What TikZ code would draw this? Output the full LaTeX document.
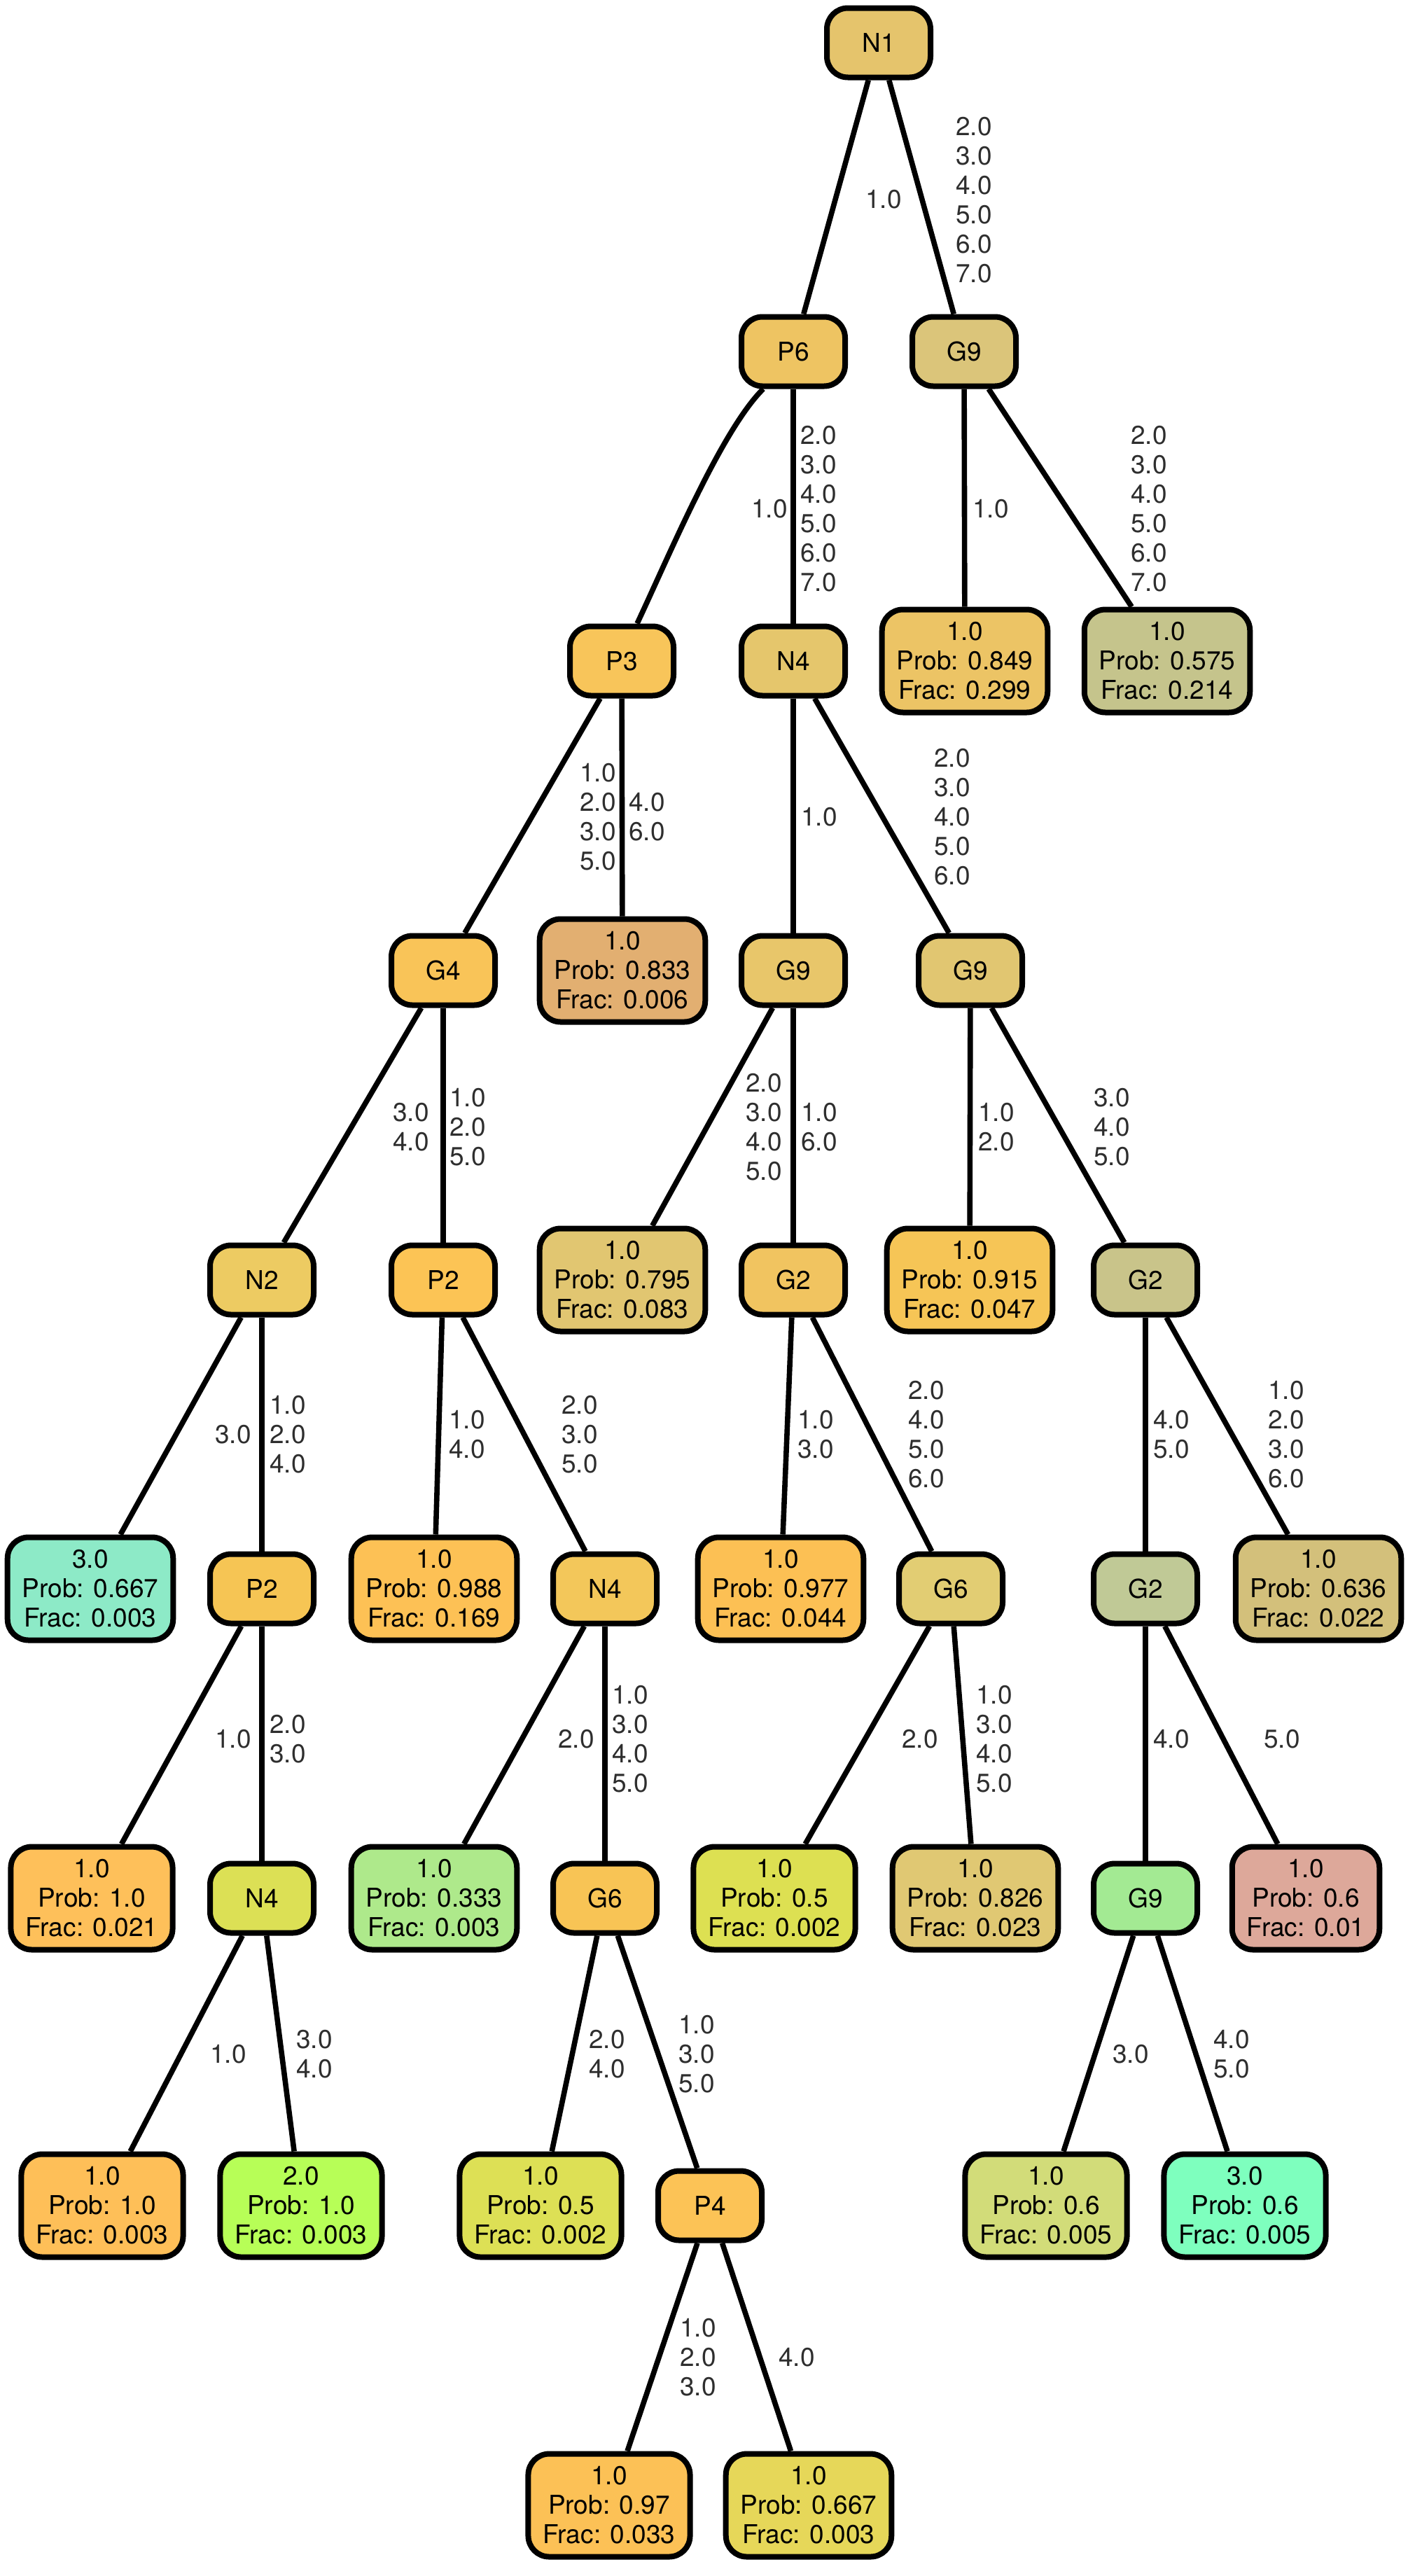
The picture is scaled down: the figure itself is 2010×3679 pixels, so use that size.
\documentclass[tikz,border=0pt]{standalone}
\usepackage{fontspec}
\setmainfont{TeX Gyre Heros}
% node fill colours
\definecolor{labgray}{HTML}{2E2E2E}
\definecolor{cNa}{HTML}{E5C46C}
\definecolor{cPsix}{HTML}{EEC462}
\definecolor{cGnineA}{HTML}{DBC57A}
\definecolor{cPthree}{HTML}{F8C55A}
\definecolor{cNfourA}{HTML}{E5C66C}
\definecolor{cLa}{HTML}{ECC465}
\definecolor{cLb}{HTML}{C5C48C}
\definecolor{cGfour}{HTML}{F9C458}
\definecolor{cLc}{HTML}{E2AF71}
\definecolor{cGnineB}{HTML}{E8C66A}
\definecolor{cGnineC}{HTML}{E1C671}
\definecolor{cNtwo}{HTML}{EDCB62}
\definecolor{cPtwoA}{HTML}{FCC455}
\definecolor{cLd}{HTML}{E1C671}
\definecolor{cGtwoA}{HTML}{F1C460}
\definecolor{cLe}{HTML}{F6C556}
\definecolor{cGtwoB}{HTML}{C9C48A}
\definecolor{cLf}{HTML}{8DEAC7}
\definecolor{cPtwoB}{HTML}{F6C554}
\definecolor{cLg}{HTML}{FDC155}
\definecolor{cNfourB}{HTML}{F3C75A}
\definecolor{cLh}{HTML}{FCC054}
\definecolor{cGsixA}{HTML}{E2CD73}
\definecolor{cGtwoC}{HTML}{C0C996}
\definecolor{cLi}{HTML}{D3C07B}
\definecolor{cLj}{HTML}{FEC05A}
\definecolor{cNfourC}{HTML}{DCE055}
\definecolor{cLk}{HTML}{AEE98B}
\definecolor{cGsixB}{HTML}{F8C455}
\definecolor{cLl}{HTML}{DDE052}
\definecolor{cLm}{HTML}{E0C873}
\definecolor{cGnineD}{HTML}{A3EA93}
\definecolor{cLn}{HTML}{DDA89A}
\definecolor{cLo}{HTML}{FEBF58}
\definecolor{cLp}{HTML}{B7FE57}
\definecolor{cLq}{HTML}{DDE055}
\definecolor{cPfour}{HTML}{FCC356}
\definecolor{cLr}{HTML}{D2DC79}
\definecolor{cLs}{HTML}{7EFFBE}
\definecolor{cLt}{HTML}{FCC156}
\definecolor{cLu}{HTML}{E6D759}
\begin{document}
\begin{tikzpicture}[x=0.5pt,y=-0.5pt,
  box/.style={draw=black, line width=4pt, rounded corners=15pt, align=center,
    font=\fontsize{18.5}{21}\selectfont, inner xsep=10.5pt, inner ysep=4pt},
  split/.style={box, minimum width=74pt, minimum height=49.5pt},
  leaf/.style={box, minimum height=73.5pt},
  elab/.style={align=center, inner sep=0pt, text=labgray,
    font=\fontsize{18.5}{21}\selectfont},
  conn/.style={draw=black, line width=3.8pt}]
\useasboundingbox (0,0) rectangle (2010,3679);

% level 0
\node[split, fill=cNa] (n1) at (1255,61) {N1};
% level 1
\node[split, fill=cPsix] (p6) at (1133,502) {P6};
\node[split, fill=cGnineA] (g9a) at (1377,502) {G9};
% level 2
\node[split, fill=cPthree] (p3) at (888,944) {P3};
\node[split, fill=cNfourA] (n4a) at (1133,944) {N4};
\node[leaf, fill=cLa] (la) at (1378,944) {1.0\\Prob: 0.849\\Frac: 0.299};
\node[leaf, fill=cLb] (lb) at (1667,944) {1.0\\Prob: 0.575\\Frac: 0.214};
% level 3
\node[split, fill=cGfour] (g4) at (633,1386) {G4};
\node[leaf, fill=cLc] (lc) at (889,1386) {1.0\\Prob: 0.833\\Frac: 0.006};
\node[split, fill=cGnineB] (g9b) at (1133,1386) {G9};
\node[split, fill=cGnineC] (g9c) at (1386,1386) {G9};
% level 4
\node[split, fill=cNtwo] (n2) at (374,1828) {N2};
\node[split, fill=cPtwoA] (p2a) at (633,1828) {P2};
\node[leaf, fill=cLd] (ld) at (889,1828) {1.0\\Prob: 0.795\\Frac: 0.083};
\node[split, fill=cGtwoA] (g2a) at (1133,1828) {G2};
\node[leaf, fill=cLe] (le) at (1385,1828) {1.0\\Prob: 0.915\\Frac: 0.047};
\node[split, fill=cGtwoB] (g2b) at (1636,1828) {G2};
% level 5
\node[leaf, fill=cLf] (lf) at (129,2269) {3.0\\Prob: 0.667\\Frac: 0.003};
\node[split, fill=cPtwoB] (p2b) at (374,2269) {P2};
\node[leaf, fill=cLg] (lg) at (620,2269) {1.0\\Prob: 0.988\\Frac: 0.169};
\node[split, fill=cNfourB] (n4b) at (864,2269) {N4};
\node[leaf, fill=cLh] (lh) at (1115,2269) {1.0\\Prob: 0.977\\Frac: 0.044};
\node[split, fill=cGsixA] (g6a) at (1358,2269) {G6};
\node[split, fill=cGtwoC] (g2c) at (1636,2269) {G2};
\node[leaf, fill=cLi] (li) at (1883,2269) {1.0\\Prob: 0.636\\Frac: 0.022};
% level 6
\node[leaf, fill=cLj] (lj) at (131,2711) {1.0\\Prob: 1.0\\Frac: 0.021};
\node[split, fill=cNfourC] (n4c) at (374,2711) {N4};
\node[leaf, fill=cLk] (lk) at (620,2711) {1.0\\Prob: 0.333\\Frac: 0.003};
\node[split, fill=cGsixB] (g6b) at (864,2711) {G6};
\node[leaf, fill=cLl] (ll) at (1106,2711) {1.0\\Prob: 0.5\\Frac: 0.002};
\node[leaf, fill=cLm] (lm) at (1393,2711) {1.0\\Prob: 0.826\\Frac: 0.023};
\node[split, fill=cGnineD] (g9d) at (1636,2711) {G9};
\node[leaf, fill=cLn] (ln) at (1865,2711) {1.0\\Prob: 0.6\\Frac: 0.01};
% level 7
\node[leaf, fill=cLo] (lo) at (146,3150) {1.0\\Prob: 1.0\\Frac: 0.003};
\node[leaf, fill=cLp] (lp) at (430,3150) {2.0\\Prob: 1.0\\Frac: 0.003};
\node[leaf, fill=cLq] (lq) at (772,3150) {1.0\\Prob: 0.5\\Frac: 0.002};
\node[split, fill=cPfour] (p4) at (1014,3150) {P4};
\node[leaf, fill=cLr] (lr) at (1494,3150) {1.0\\Prob: 0.6\\Frac: 0.005};
\node[leaf, fill=cLs] (ls) at (1778,3150) {3.0\\Prob: 0.6\\Frac: 0.005};
% level 8
\node[leaf, fill=cLt] (lt) at (870,3578) {1.0\\Prob: 0.97\\Frac: 0.033};
\node[leaf, fill=cLu] (lu) at (1155,3578) {1.0\\Prob: 0.667\\Frac: 0.003};

% connectors (straight ones)
\foreach \a/\b in {n1/p6, n1/g9a, p6/n4a, g9a/la, g9a/lb,
  p3/g4, p3/lc, n4a/g9b, n4a/g9c,
  g4/n2, g4/p2a, g9b/ld, g9b/g2a, g9c/le, g9c/g2b,
  n2/lf, n2/p2b, p2a/lg, p2a/n4b, g2a/lh, g2a/g6a, g2b/g2c, g2b/li,
  p2b/lj, p2b/n4c, n4b/lk, n4b/g6b, g6a/ll, g6a/lm, g2c/g9d, g2c/ln,
  n4c/lo, n4c/lp, g6b/lq, g6b/p4, g9d/lr, g9d/ls,
  p4/lt, p4/lu}
  \draw[conn] (\a) -- (\b);
% the one bent connector
\draw[conn] (p6.south) ++(-43,0) coordinate (p6out)
  (p3.north) ++(22,0) coordinate (p3in)
  (p6out) .. controls (1030,615) and (955,795) .. (p3in);

% connector labels
\node[elab] (e1) at (1262,285) {1.0};
\node[elab] (e2) at (1391,286) {2.0\\3.0\\4.0\\5.0\\6.0\\7.0};
\node[elab] (e3) at (1099,727) {1.0};
\node[elab] (e4) at (1169,727) {2.0\\3.0\\4.0\\5.0\\6.0\\7.0};
\node[elab] (e5) at (1415,727) {1.0};
\node[elab] (e6) at (1641,727) {2.0\\3.0\\4.0\\5.0\\6.0\\7.0};
\node[elab] (e7) at (854,1167) {1.0\\2.0\\3.0\\5.0};
\node[elab] (e8) at (924,1167) {4.0\\6.0};
\node[elab] (e9) at (1170,1167) {1.0};
\node[elab] (e10) at (1360,1167) {2.0\\3.0\\4.0\\5.0\\6.0};
\node[elab] (e11) at (587,1610) {3.0\\4.0};
\node[elab] (e12) at (668,1610) {1.0\\2.0\\5.0};
\node[elab] (e13) at (1091,1610) {2.0\\3.0\\4.0\\5.0};
\node[elab] (e14) at (1170,1610) {1.0\\6.0};
\node[elab] (e15) at (1423,1610) {1.0\\2.0};
\node[elab] (e16) at (1588,1610) {3.0\\4.0\\5.0};
\node[elab] (e17) at (333,2049) {3.0};
\node[elab] (e18) at (411,2049) {1.0\\2.0\\4.0};
\node[elab] (e19) at (667,2049) {1.0\\4.0};
\node[elab] (e20) at (828,2049) {2.0\\3.0\\5.0};
\node[elab] (e21) at (1165,2049) {1.0\\3.0};
\node[elab] (e22) at (1323,2049) {2.0\\4.0\\5.0\\6.0};
\node[elab] (e23) at (1673,2049) {4.0\\5.0};
\node[elab] (e24) at (1837,2049) {1.0\\2.0\\3.0\\6.0};
\node[elab] (e25) at (333,2484) {1.0};
\node[elab] (e26) at (411,2484) {2.0\\3.0};
\node[elab] (e27) at (823,2484) {2.0};
\node[elab] (e28) at (900,2484) {1.0\\3.0\\4.0\\5.0};
\node[elab] (e29) at (1314,2484) {2.0};
\node[elab] (e30) at (1420,2484) {1.0\\3.0\\4.0\\5.0};
\node[elab] (e31) at (1673,2484) {4.0};
\node[elab] (e32) at (1831,2484) {5.0};
\node[elab] (e33) at (326,2934) {1.0};
\node[elab] (e34) at (449,2934) {3.0\\4.0};
\node[elab] (e35) at (867,2934) {2.0\\4.0};
\node[elab] (e36) at (995,2934) {1.0\\3.0\\5.0};
\node[elab] (e37) at (1615,2934) {3.0};
\node[elab] (e38) at (1759,2934) {4.0\\5.0};
\node[elab] (e39) at (997,3367) {1.0\\2.0\\3.0};
\node[elab] (e40) at (1138,3367) {4.0};
\end{tikzpicture}
\end{document}
